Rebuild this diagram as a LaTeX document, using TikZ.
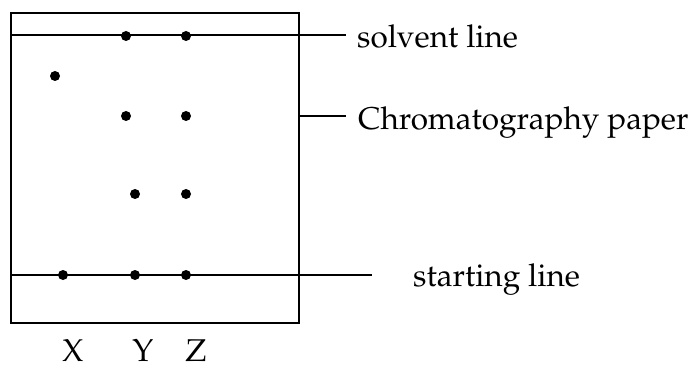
\documentclass[tikz,border=0pt]{standalone}
\usepackage[T1]{fontenc}
\usepackage{mathpazo}
\tikzset{
  spot/.style={circle,fill=black,inner sep=0pt,minimum size=10pt},
  lab/.style={inner sep=0pt,font=\fontsize{31.5}{36}\selectfont},
  ln/.style={line width=2pt},
}
\begin{document}
\begin{tikzpicture}[x=1pt,y=-1pt]
\useasboundingbox (0,0) rectangle (696,366);
% paper
\draw[line width=2.6pt] (11,13) rectangle (299,323);
\coordinate (pr) at (299,116);
% solvent and starting lines
\coordinate (sl0) at (11,35);
\coordinate (sl1) at (346,35);
\coordinate (st0) at (11,275);
\coordinate (st1) at (372,275);
\draw[ln] (sl0) -- (sl1);
\draw[ln] (st0) -- (st1);
\coordinate (cp1) at (346,116);
\draw[ln] (pr) -- (cp1);
% spots
\node[spot] (y1) at (126,36) {};
\node[spot] (z1) at (186,36) {};
\node[spot] (x2) at (55,76) {};
\node[spot] (y2) at (126,116) {};
\node[spot] (z2) at (186,116) {};
\node[spot] (y3) at (135,194) {};
\node[spot] (z3) at (186,194) {};
\node[spot] (x0) at (63,275) {};
\node[spot] (y0) at (135,275) {};
\node[spot] (z0) at (186,275) {};
% labels
\node[lab,anchor=base west] (ls) at (357,48) {solvent line};
\node[lab,anchor=base west] (lc) at (358,130) {Chromatography paper};
\node[lab,anchor=base west] (lst) at (413,286) {starting line};
\node[lab,anchor=base] (lx) at (73,361) {X};
\node[lab,anchor=base] (ly) at (143,361) {Y};
\node[lab,anchor=base] (lz) at (196,361) {Z};
\end{tikzpicture}
\end{document}
